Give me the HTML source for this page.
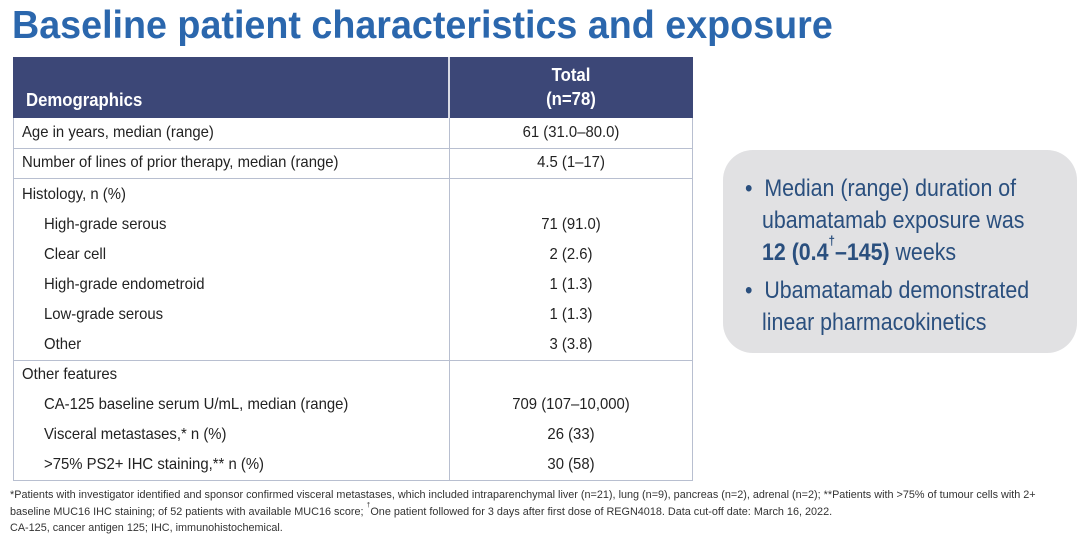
<!DOCTYPE html>
<html><head><meta charset="utf-8"><style>
body{margin:0;width:1080px;height:538px;background:#fff;position:relative;overflow:hidden;font-family:"Liberation Sans",sans-serif;}
.a{position:absolute;white-space:nowrap;}
.n{transform:scaleX(.93);transform-origin:left center;}
.c{transform:scaleX(.93);transform-origin:center center;width:244px;text-align:center;left:449px;}
.t{font-size:16px;color:#222;line-height:30px;}
.hl{position:absolute;left:13px;width:680px;height:1px;background:#b8bfd0;}
.b{font-size:24px;color:#2a4f7e;line-height:32px;transform:scaleX(.89);transform-origin:left center;}
.f{font-size:11px;color:#333;transform:scaleX(.985);transform-origin:left center;line-height:16px;}
sup{line-height:0;vertical-align:top;position:relative;}
</style></head><body>
<div class="a" style="left:12px;top:2px;font-size:39px;font-weight:bold;color:#2b67ad;line-height:48px;transform:scaleX(.966);transform-origin:left center;">Baseline patient characteristics and exposure</div>

<div class="a" style="left:13px;top:57px;width:680px;height:61px;background:#3c4777;"></div>
<div class="a" style="left:448px;top:57px;width:2px;height:61px;background:#fff;opacity:.8"></div>
<div class="a n" style="left:26px;top:88px;font-size:18px;font-weight:bold;color:#fff;line-height:24px;">Demographics</div>
<div class="a c" style="top:63px;font-size:18px;font-weight:bold;color:#fff;line-height:24px;">Total<br>(n=78)</div>

<div class="a" style="left:13px;top:118px;width:1px;height:362px;background:#b8bfd0;"></div>
<div class="a" style="left:692px;top:118px;width:1px;height:362px;background:#b8bfd0;"></div>
<div class="a" style="left:449px;top:118px;width:1px;height:362px;background:#b8bfd0;"></div>
<div class="hl" style="top:148px"></div>
<div class="hl" style="top:178px"></div>
<div class="hl" style="top:360px"></div>
<div class="hl" style="top:480px"></div>

<div class="a t n" style="left:22px;top:118px">Age in years, median (range)</div>
<div class="a t c" style="top:118px">61 (31.0–80.0)</div>
<div class="a t n" style="left:22px;top:148px">Number of lines of prior therapy, median (range)</div>
<div class="a t c" style="top:148px">4.5 (1–17)</div>
<div class="a t n" style="left:22px;top:180px">Histology, n (%)</div>
<div class="a t n" style="left:44px;top:210px">High-grade serous</div>
<div class="a t c" style="top:210px">71 (91.0)</div>
<div class="a t n" style="left:44px;top:240px">Clear cell</div>
<div class="a t c" style="top:240px">2 (2.6)</div>
<div class="a t n" style="left:44px;top:270px">High-grade endometroid</div>
<div class="a t c" style="top:270px">1 (1.3)</div>
<div class="a t n" style="left:44px;top:300px">Low-grade serous</div>
<div class="a t c" style="top:300px">1 (1.3)</div>
<div class="a t n" style="left:44px;top:330px">Other</div>
<div class="a t c" style="top:330px">3 (3.8)</div>
<div class="a t n" style="left:22px;top:360px">Other features</div>
<div class="a t n" style="left:44px;top:390px">CA-125 baseline serum U/mL, median (range)</div>
<div class="a t c" style="top:390px">709 (107–10,000)</div>
<div class="a t n" style="left:44px;top:420px">Visceral metastases,* n (%)</div>
<div class="a t c" style="top:420px">26 (33)</div>
<div class="a t n" style="left:44px;top:450px">&gt;75% PS2+ IHC staining,** n (%)</div>
<div class="a t c" style="top:450px">30 (58)</div>

<div class="a" style="left:723px;top:150px;width:354px;height:203px;background:#e1e1e3;border-radius:30px;"></div>
<div class="a b" style="left:745px;top:173px">•&nbsp; Median (range) duration of</div>
<div class="a b" style="left:762px;top:205px">ubamatamab exposure was</div>
<div class="a b" style="left:762px;top:237px"><b>12 (0.4<sup style="font-size:13px;top:4px">†</sup>–145)</b> weeks</div>
<div class="a b" style="left:745px;top:275px">•&nbsp; Ubamatamab demonstrated</div>
<div class="a b" style="left:762px;top:307px">linear pharmacokinetics</div>

<div class="a f" style="left:10px;top:487px">*Patients with investigator identified and sponsor confirmed visceral metastases, which included intraparenchymal liver (n=21), lung (n=9), pancreas (n=2), adrenal (n=2); **Patients with &gt;75% of tumour cells with 2+</div>
<div class="a f" style="left:10px;top:504px">baseline MUC16 IHC staining; of 52 patients with available MUC16 score; <sup style="font-size:7px;top:2px">†</sup>One patient followed for 3 days after first dose of REGN4018. Data cut-off date: March 16, 2022.</div>
<div class="a f" style="left:10px;top:520px">CA-125, cancer antigen 125; IHC, immunohistochemical.</div>
</body></html>
